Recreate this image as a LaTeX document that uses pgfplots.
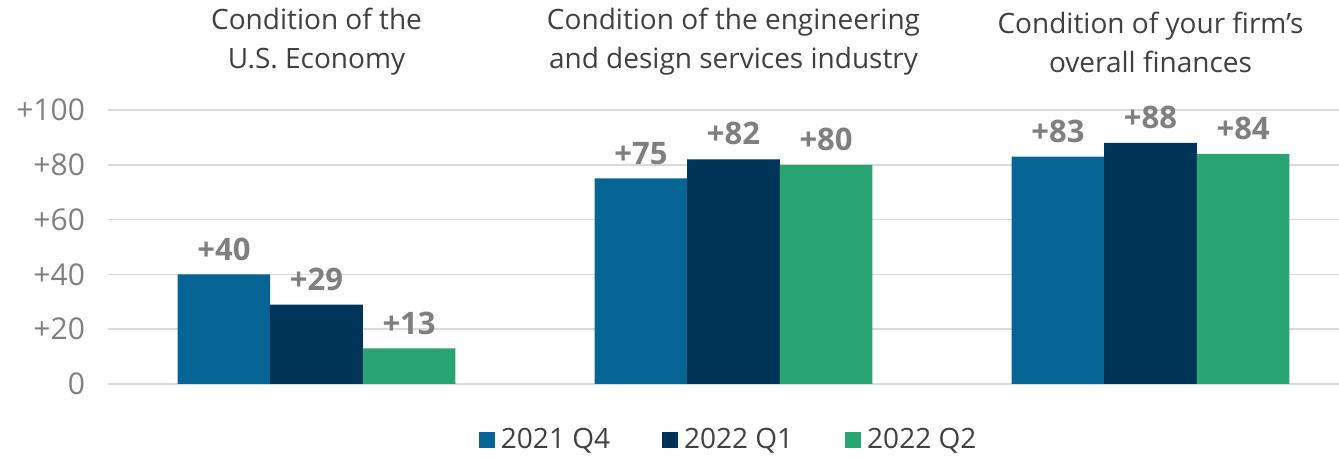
\documentclass[border=0pt]{standalone}
\usepackage{fontspec}
\setmainfont{Open Sans}
\usepackage{pgfplots}
\pgfplotsset{compat=1.18}
\definecolor{cBlue}{HTML}{066595}
\definecolor{cNavy}{HTML}{003458}
\definecolor{cGreen}{HTML}{29A574}
\definecolor{cGrid}{HTML}{D9D9D9}
\definecolor{cTick}{HTML}{7F7F7F}
\definecolor{cText}{HTML}{404040}
\begin{document}
\begin{tikzpicture}
\useasboundingbox (-54pt,-37pt) rectangle (615.5pt,192pt);
\begin{axis}[
  at={(0,0)}, anchor=south west,
  scale only axis, width=615.5pt, height=137pt,
  clip=false,
  xmin=-0.5, xmax=2.452, ymin=0, ymax=100,
  ybar, bar width=0.222,
  axis x line*=bottom, axis y line*=left,
  x axis line style={cGrid, line width=0.8pt},
  y axis line style={draw=none},
  xtick=\empty,
  ytick={0,20,40,60,80,100},
  yticklabels={0,+20,+40,+60,+80,+100},
  major tick length=0pt,
  ymajorgrids, grid style={cGrid, line width=0.8pt},
  yticklabel style={font=\fontsize{15}{18}\selectfont, text=cTick, xshift=-8pt},
  /pgf/number format/assume math mode=true,
  nodes near coords={+\pgfmathprintnumber{\pgfplotspointmeta}},
  every node near coord/.append style={font=\bfseries\fontsize{15.5}{18}\selectfont, text=cTick, yshift=3.5pt},
  legend columns=3,
  legend style={at={(0.505,-0.204)}, anchor=center, draw=none, fill=none,
    font=\fontsize{14}{17}\selectfont, text=cText,
    /tikz/every even column/.append style={column sep=24pt}},
  legend image code/.code={\fill[#1,draw=none] (0pt,-4pt) rectangle (8pt,4pt); \path (9pt,0pt);},
]
\addplot[fill=cBlue, draw=none, bar shift=-0.222] coordinates {(0,40) (1,75) (2,83)};
\addplot[fill=cNavy, draw=none, bar shift=0] coordinates {(0,29) (1,82) (2,88)};
\addplot[fill=cGreen, draw=none, bar shift=0.222] coordinates {(0,13) (1,80) (2,84)};
\legend{2021 Q4, 2022 Q1, 2022 Q2}
\node[align=center, font=\fontsize{14}{19.5}\selectfont, text=cText] at (axis cs:0,124.8) {Condition of the\\U.S. Economy};
\node[align=center, font=\fontsize{14}{19.5}\selectfont, text=cText] at (axis cs:1,124.8) {Condition of the engineering\\and design services industry};
\node[align=center, font=\fontsize{14}{19.5}\selectfont, text=cText] at (axis cs:2,124.8) {Condition of your firm’s\\overall finances};
\end{axis}
\end{tikzpicture}
\end{document}
